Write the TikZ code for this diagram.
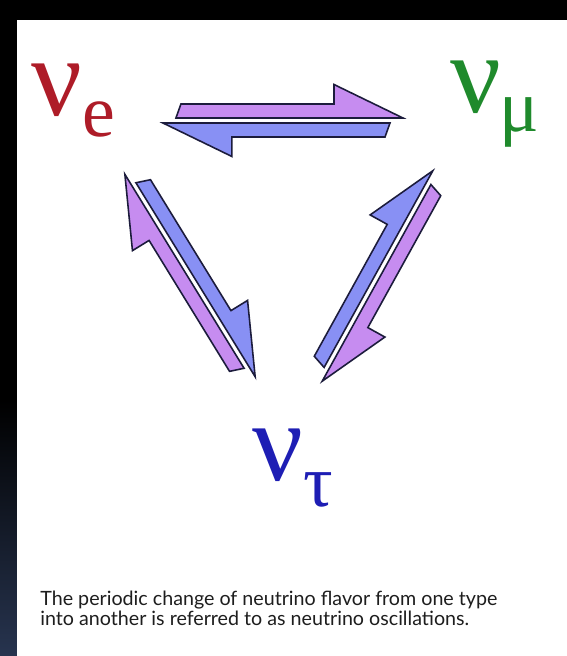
\documentclass[tikz,border=0pt]{standalone}
\usepackage{fontspec}
\usepackage{tikz}
\usetikzlibrary{calc}
\setmainfont{Liberation Serif}
\newfontfamily\captionfont{Lato}
\definecolor{cElectron}{HTML}{AE1C28}
\definecolor{cMuon}{HTML}{1F8A2C}
\definecolor{cTau}{HTML}{1E1EB4}
\definecolor{cForward}{HTML}{8890F4}
\definecolor{cBackward}{HTML}{C68CF0}
\definecolor{cEdge}{HTML}{1C1C3C}
\definecolor{cNavy}{HTML}{27344F}
\definecolor{cCaption}{HTML}{1E1E1E}

\tikzset{
  harpoon/.style={draw=cEdge, line width=0.9pt, line join=miter},
  flavor/.style={anchor=base west, inner sep=0pt, font=\fontsize{64}{64}\selectfont},
}

% two half arrows between #1 and #2, the one towards #2 on its left
\newcommand{\oscpair}[2]{%
  \path let \p1=($(#2)-(#1)$) in
    \pgfextra{\pgfmathsetmacro{\pairang}{atan2(\y1,\x1)}%
      \pgfmathsetmacro{\pairlen}{veclen(\x1,\y1)/0.56906}%
      \xdef\pairang{\pairang}\xdef\pairlen{\pairlen}};
  \begin{scope}[shift={(#1)}, rotate=\pairang]
    \filldraw[harpoon, fill=cForward] (13,2.5) -- (\pairlen,2.5) -- (\pairlen-69,36)
      -- (\pairlen-69,16.5) -- (18,16.5) -- cycle;
    \filldraw[harpoon, fill=cBackward] (\pairlen-13,-2.5) -- (0,-2.5) -- (69,-36)
      -- (69,-16.5) -- (\pairlen-18,-16.5) -- cycle;
  \end{scope}}

\begin{document}
\begin{tikzpicture}[x=0.02cm, y=0.02cm]
  % frame
  \fill[black] (0,0) rectangle (567,-656);
  \shade[top color=black, bottom color=cNavy] (0,-400) rectangle (17,-656);
  \fill[white] (17,-20) rectangle (567,-656);
  % flavours
  \node[flavor, text=cElectron] (nue) at (31,-115)
    {ν\kern0pt\raisebox{-12.5pt}{\fontsize{42}{42}\selectfont e}};
  \node[flavor, text=cMuon] (numu) at (450,-112)
    {ν\kern-1pt\raisebox{-11pt}{\fontsize{42}{42}\selectfont μ}};
  \node[flavor, text=cTau] (nutau) at (252,-480)
    {ν\kern0pt\raisebox{-15pt}{\fontsize{42}{42}\selectfont τ}};
  % oscillation arrows
  \coordinate (emu-a) at (403,-120.5);
  \coordinate (emu-b) at (163,-120.5);
  \coordinate (etau-a) at (127,-173);
  \coordinate (etau-b) at (253,-378);
  \coordinate (taumu-a) at (320,-380);
  \coordinate (taumu-b) at (435,-172);
  \oscpair{emu-a}{emu-b}
  \oscpair{etau-a}{etau-b}
  \oscpair{taumu-a}{taumu-b}
  % caption
  \node[anchor=north west, align=left, inner sep=0pt, text=cCaption,
    font=\captionfont\fontsize{11.2}{11.4}\selectfont] (caption) at (40,-591)
    {The periodic change of neutrino flavor from one type\\
     into another is referred to as neutrino oscillations.};
\end{tikzpicture}
\end{document}
